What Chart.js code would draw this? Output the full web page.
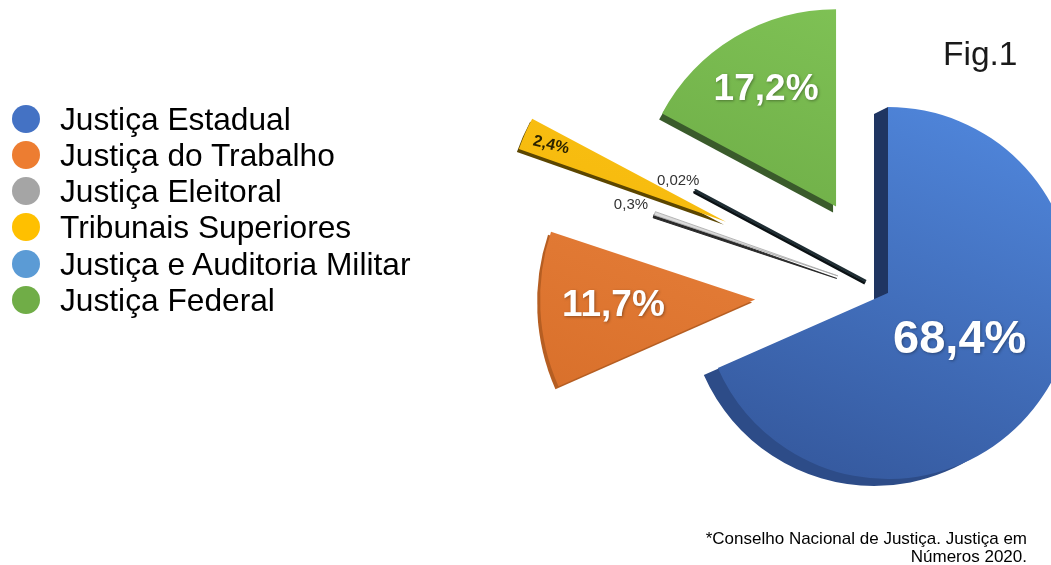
<!DOCTYPE html>
<html lang="pt-BR">
<head>
<meta charset="utf-8">
<script src="https://cdn.jsdelivr.net/npm/chart.js@4.4.1/dist/chart.umd.min.js"></script>
<style>
html,body{margin:0;padding:0;background:#fff;width:1051px;height:565px;overflow:hidden;font-family:"Liberation Sans",Arial,sans-serif;}
#wrap{position:relative;width:1051px;height:565px;}
#c{position:absolute;left:0;top:0;}
.leg{position:absolute;left:12px;height:36px;line-height:36px;font-size:31.7px;color:#000;white-space:nowrap;}
.leg i{position:absolute;left:0;top:4px;width:28px;height:28px;border-radius:50%;}
.leg span{position:absolute;left:48px;top:0;}
#fig{position:absolute;left:943px;top:37px;font-size:33.5px;line-height:33px;color:#1a1a1a;}
#note{position:absolute;right:24px;top:530px;font-size:17px;line-height:18px;text-align:right;color:#000;white-space:nowrap;}
</style>
</head>
<body>
<div id="wrap">
  <canvas id="c" width="1051" height="565"></canvas>
  <div id="legend"></div>
  <div id="fig">Fig.1</div>
  <div id="note">*Conselho Nacional de Justiça. Justiça em<br>Números 2020.</div>
</div>
<script>
// ---- data ----
const categories = ['Justiça Estadual', 'Justiça do Trabalho', 'Justiça Eleitoral', 'Tribunais Superiores', 'Justiça e Auditoria Militar', 'Justiça Federal'];
const shares = [68.4, 11.7, 0.3, 2.4, 0.02, 17.2];
const legendColors = ['#4472c4', '#ed7d31', '#a5a5a5', '#ffc000', '#5b9bd5', '#70ad47'];

// ---- styles ----
const R = 186;
const faceTop = ['#4f85da', '#ee8742', '#f4f4f4', '#ffc81e', '#26363c', '#80c356'];
const faceBottom = ['#35599e', '#d56c27', '#c4c4c4', '#efb000', '#141e22', '#65a23f'];
const sideColors = ['#2d4c88', '#b65e22', '#2a2a2a', '#5c4600', '#0b1114', '#3a5b2b'];
const wallColors = ['#1f3562', null, null, null, null, null];
const explode = [0, 133, 53, 177, 25, 101];
const radiusScale = [1, 1.156, 1.04, 1.18, 1.04, 1.06];
const depth = [[-14, 7], [-3, 3], [-1, 2.5], [-2, 3], [-1, 2], [-3, 6]];
const labelFrac = [0.46, 0.66, 1.13, 0.87, 1.10, 0.69];
const labelSize = [47, 37, 15, 16, 15, 37];
const labelWeight = ['bold', 'bold', 'normal', 'bold', 'normal', 'bold'];
const labelColor = ['#ffffff', '#ffffff', '#333333', '#2b2300', '#333333', '#ffffff'];
const labelRot = [0, 0, 0, 0.24, 0, 0];
const FONT = '"Liberation Sans", Arial, sans-serif';

// legend (HTML)
const legendEl = document.getElementById('legend');
categories.forEach((name, i) => {
  const d = document.createElement('div');
  d.className = 'leg';
  d.style.top = (101 + i * 36.14) + 'px';
  const dot = document.createElement('i');
  dot.style.background = legendColors[i];
  const t = document.createElement('span');
  t.textContent = name;
  d.appendChild(dot); d.appendChild(t);
  legendEl.appendChild(d);
});

function fmt(v) { return String(v).replace('.', ',') + '%'; }

function faceFill(c) {
  const i = c.dataIndex;
  const chart = c.chart;
  const a = chart.chartArea;
  if (!a) return faceTop[i];
  const cx = (a.left + a.right) / 2, cy = (a.top + a.bottom) / 2;
  const g = chart.ctx.createLinearGradient(cx + R * 0.4, cy - R, cx - R * 0.4, cy + R);
  g.addColorStop(0, faceTop[i]);
  g.addColorStop(1, faceBottom[i]);
  return g;
}

const sliceDraw = {
  id: 'sliceDraw',
  beforeDatasetDraw(chart, args) {
    const ctx = chart.ctx;
    const arcs = args.meta.data;
    arcs.forEach((arc, i) => {
      const p = arc.getProps(['x', 'y', 'startAngle', 'endAngle', 'outerRadius'], true);
      const mid = (p.startAngle + p.endAngle) / 2;
      const s = radiusScale[i];
      const dx = depth[i][0] / s, dy = depth[i][1] / s;
      ctx.save();
      ctx.translate(Math.cos(mid) * explode[i], Math.sin(mid) * explode[i]);
      ctx.translate(p.x, p.y); ctx.scale(s, s); ctx.translate(-p.x, -p.y);
      // side (depth) face
      ctx.save();
      ctx.translate(dx, dy);
      ctx.fillStyle = sideColors[i];
      ctx.strokeStyle = sideColors[i];
      ctx.lineJoin = 'bevel';
      ctx.beginPath();
      ctx.moveTo(p.x, p.y);
      ctx.arc(p.x, p.y, p.outerRadius, p.startAngle, p.endAngle);
      ctx.closePath();
      ctx.fill();
      if (i === 4 || i === 2) { ctx.lineWidth = i === 4 ? 2.5 : 1; ctx.stroke(); }
      ctx.restore();
      // wall along the starting straight edge
      if (wallColors[i]) {
        const ex = p.x + Math.cos(p.startAngle) * p.outerRadius;
        const ey = p.y + Math.sin(p.startAngle) * p.outerRadius;
        ctx.fillStyle = wallColors[i];
        ctx.beginPath();
        ctx.moveTo(p.x, p.y);
        ctx.lineTo(ex, ey);
        ctx.lineTo(ex + dx, ey + dy);
        ctx.lineTo(p.x + dx, p.y + dy);
        ctx.closePath();
        ctx.fill();
      }
      // top face drawn by the library's arc element
      arc.draw(ctx);
      ctx.restore();
    });
    return false;
  }
};

const sliceLabels = {
  id: 'sliceLabels',
  afterDatasetsDraw(chart) {
    const ctx = chart.ctx;
    const meta = chart.getDatasetMeta(0);
    meta.data.forEach((arc, i) => {
      const p = arc.getProps(['x', 'y', 'startAngle', 'endAngle', 'outerRadius'], true);
      const mid = (p.startAngle + p.endAngle) / 2;
      const ax = p.x + Math.cos(mid) * explode[i];
      const ay = p.y + Math.sin(mid) * explode[i];
      const dist = labelFrac[i] * p.outerRadius * radiusScale[i];
      const lx = ax + Math.cos(mid) * dist;
      const ly = ay + Math.sin(mid) * dist;
      ctx.save();
      ctx.translate(lx, ly);
      ctx.rotate(labelRot[i]);
      ctx.font = labelWeight[i] + ' ' + labelSize[i] + 'px ' + FONT;
      ctx.textAlign = 'center';
      ctx.textBaseline = 'middle';
      if (labelColor[i] === '#ffffff') {
        ctx.shadowColor = 'rgba(0,0,0,0.35)';
        ctx.shadowBlur = 3;
        ctx.shadowOffsetX = 1;
        ctx.shadowOffsetY = 1;
      }
      ctx.fillStyle = labelColor[i];
      ctx.fillText(fmt(shares[i]), 0, 0);
      ctx.restore();
    });
  }
};

new Chart(document.getElementById('c'), {
  type: 'pie',
  data: {
    labels: categories,
    datasets: [{
      data: shares,
      backgroundColor: faceFill,
      borderColor: ['#000000', '#000000', '#a8a8a8', '#000000', '#1f2d33', '#000000'],
      borderWidth: [0, 0, 0.8, 0, 2.5, 0],
      radius: R,
      clip: false
    }]
  },
  options: {
    responsive: false,
    animation: false,
    events: [],
    devicePixelRatio: 1,
    layout: { padding: { left: 725, right: 0, top: 21, bottom: 0 } },
    plugins: { legend: { display: false }, tooltip: { enabled: false }, title: { display: false } }
  },
  plugins: [sliceDraw, sliceLabels]
});
</script>
</body>
</html>
